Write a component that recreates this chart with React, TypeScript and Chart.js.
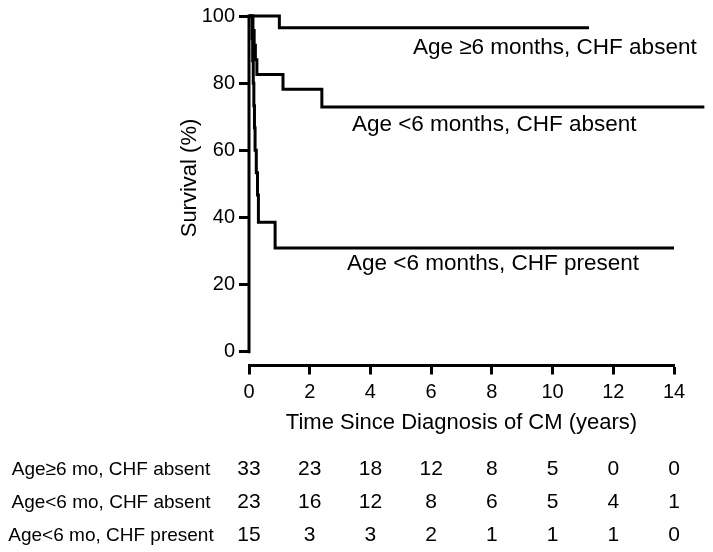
import React, { useEffect, useRef } from "react";
import { Chart, registerables } from "chart.js";

Chart.register(...registerables);

// ---- data ----
const timesA = [0, 1.0, 11.2];
const survA = [100, 96.5, 96.5];

const timesB = [0, 0.13, 0.17, 0.21, 0.26, 1.12, 2.4, 15.0];
const survB = [100, 95.7, 91.3, 87.0, 82.6, 78.2, 72.9, 72.9];

const timesC = [0, 0.1, 0.12, 0.14, 0.16, 0.18, 0.2, 0.24, 0.28, 0.31, 0.86, 14.0];
const survC = [100, 93.3, 86.7, 80.0, 73.3, 66.7, 60.0, 53.3, 46.7, 38.6, 30.9, 30.9];

const xTicks = [0, 2, 4, 6, 8, 10, 12, 14];
const yTicks = [0, 20, 40, 60, 80, 100];

const curveLabels = [
  "Age \u22656 months, CHF absent",
  "Age <6 months, CHF absent",
  "Age <6 months, CHF present",
];

const tableRowLabels = [
  "Age\u22656 mo, CHF absent",
  "Age<6 mo, CHF absent",
  "Age<6 mo, CHF present",
];
const atRiskTimes = [0, 2, 4, 6, 8, 10, 12, 14];
const atRiskA = [33, 23, 18, 12, 8, 5, 0, 0];
const atRiskB = [23, 16, 12, 8, 6, 5, 4, 1];
const atRiskC = [15, 3, 3, 2, 1, 1, 1, 0];

const xTitle = "Time Since Diagnosis of CM (years)";
const yTitle = "Survival (%)";

// ---- styling / layout ----
const FONT = '"Liberation Sans", Arial, Helvetica, sans-serif';
const W = 713;
const H = 552;
// label anchors in data units (x = left edge, y = baseline)
const labelAnchors = [
  { x: 5.4, y: 88.6 },
  { x: 3.39, y: 65.7 },
  { x: 3.23, y: 24.3 },
];
const tableLabelCenterX = 111;
const tableBaselines = [474.5, 507.5, 540.5];

const toPts = (xs: number[], ys: number[]) => xs.map((x, i) => ({ x, y: ys[i] }));

const overlayPlugin = {
  id: "overlay",
  afterDraw(chart: any) {
    const { ctx, chartArea } = chart;
    const x = chart.scales.x;
    const y = chart.scales.y;
    ctx.save();
    // y axis line from 0 to 100
    ctx.strokeStyle = "#000";
    ctx.lineWidth = 3;
    ctx.beginPath();
    ctx.moveTo(chartArea.left, y.getPixelForValue(100) - 1.5);
    ctx.lineTo(chartArea.left, y.getPixelForValue(0) + 1.5);
    ctx.stroke();

    ctx.fillStyle = "#000";
    // y title
    ctx.save();
    ctx.font = `22px ${FONT}`;
    ctx.textAlign = "center";
    ctx.textBaseline = "alphabetic";
    ctx.translate(196, 178);
    ctx.rotate(-Math.PI / 2);
    ctx.fillText(yTitle, 0, 0);
    ctx.restore();

    // curve labels
    ctx.font = `22.5px ${FONT}`;
    ctx.textAlign = "left";
    ctx.textBaseline = "alphabetic";
    curveLabels.forEach((t, i) => {
      ctx.fillText(t, x.getPixelForValue(labelAnchors[i].x), y.getPixelForValue(labelAnchors[i].y));
    });

    // number at risk table
    const rows = [atRiskA, atRiskB, atRiskC];
    rows.forEach((row, r) => {
      ctx.font = `19px ${FONT}`;
      ctx.textAlign = "center";
      ctx.fillText(tableRowLabels[r], tableLabelCenterX, tableBaselines[r]);
      ctx.font = `21px ${FONT}`;
      row.forEach((v, c) => {
        ctx.fillText(String(v), x.getPixelForValue(atRiskTimes[c]), tableBaselines[r]);
      });
    });
    ctx.restore();
  },
};

export default function App() {
  const ref = useRef<HTMLCanvasElement | null>(null);
  useEffect(() => {
    if (!ref.current) return;
    const ds = (xs: number[], ys: number[]) => ({
      data: toPts(xs, ys),
      borderColor: "#000",
      borderWidth: 3,
      pointRadius: 0,
      stepped: "before" as const,
      fill: false,
      clip: false as any,
      borderJoinStyle: "miter" as const,
    });
    const chart = new Chart(ref.current, {
      type: "line",
      data: {
        datasets: [ds(timesA, survA), ds(timesB, survB), ds(timesC, survC)],
      },
      plugins: [overlayPlugin],
      options: {
        animation: false,
        responsive: false,
        maintainAspectRatio: false,
        layout: { padding: { left: 176, right: 39, top: 13.5, bottom: 115.5 } },
        plugins: { legend: { display: false }, tooltip: { enabled: false } },
        scales: {
          x: {
            type: "linear",
            min: 0,
            max: 14,
            afterBuildTicks: (s: any) => {
              s.ticks = xTicks.map((value) => ({ value }));
            },
            afterFit: (s: any) => {
              s.height = 71;
            },
            grid: {
              drawOnChartArea: false,
              tickLength: 9,
              tickWidth: 3,
              tickColor: "#000",
              color: "#000",
            },
            border: { display: true, color: "#000", width: 3 },
            ticks: {
              color: "#000",
              padding: 6,
              maxRotation: 0,
              font: { family: FONT, size: 20 },
            },
            title: {
              display: true,
              text: xTitle,
              color: "#000",
              padding: 0,
              font: { family: FONT, size: 22 },
            },
          },
          y: {
            type: "linear",
            min: -4.08,
            max: 100,
            afterBuildTicks: (s: any) => {
              s.ticks = yTicks.map((value) => ({ value }));
            },
            afterFit: (s: any) => {
              s.width = 73;
            },
            grid: {
              drawOnChartArea: false,
              tickLength: 10,
              tickWidth: 3,
              tickColor: "#000",
              color: "#000",
            },
            border: { display: false },
            ticks: {
              color: "#000",
              padding: 4,
              font: { family: FONT, size: 20 },
            },
          },
        },
      },
    });
    return () => chart.destroy();
  }, []);
  return (
    <div style={{ position: "absolute", left: 0, top: 0, width: W, height: H, background: "#fff" }}>
      <canvas ref={ref} width={W} height={H} style={{ display: "block" }} />
    </div>
  );
}
